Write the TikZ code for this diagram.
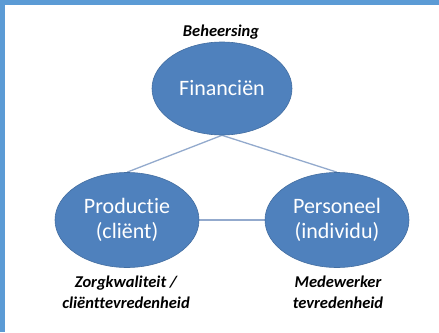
\documentclass[tikz,border=0pt]{standalone}
\usepackage{fontspec}
\setmainfont[RawFeature={-liga}]{Carlito}
\usetikzlibrary{shapes.geometric,backgrounds}
\begin{document}
\begin{tikzpicture}[x=1pt,y=-1pt,
  blob/.style={ellipse, fill=ellblue, draw=ellblue!85!black, line width=0.6pt, text=white, font=\fontsize{22}{25}\selectfont, align=center, inner sep=0pt},
  note/.style={font=\fontsize{16.5}{21}\selectfont\bfseries\itshape, align=center, text=black},
  link/.style={draw=linkblue, line width=1.3pt}]
\definecolor{ellblue}{HTML}{4F81BD}
\definecolor{linkblue}{HTML}{93AACD}
\definecolor{frameblue}{HTML}{5B9BD5}
\useasboundingbox (0,0) rectangle (439,332);
% ellipses
\node[blob, minimum width=140pt, minimum height=93pt] (fin) at (222,88.5) {Financiën};
\node[blob, minimum width=144pt, minimum height=95pt] (prod) at (127,220) {Productie\\(cliënt)};
\node[blob, minimum width=144pt, minimum height=95pt] (pers) at (337,220) {Personeel\\(individu)};
% labels
\node[note] (beh) at (221,32) {Beheersing};
\node[note] (zorg) at (126,292) {Zorgkwaliteit /\\cliënttevredenheid};
\node[note] (mede) at (338,292) {Medewerker\\tevredenheid};
\begin{scope}[on background layer]
\fill[white] (0,0) rectangle (439,332);
\fill[frameblue] (0,0) rectangle (439,5);
\fill[frameblue] (0,0) rectangle (5,332);
\draw[link] (fin.south) -- (prod.north);
\draw[link] (fin.south) -- (pers.north);
\draw[link] (prod.east) -- (pers.west);
\end{scope}
\end{tikzpicture}
\end{document}
